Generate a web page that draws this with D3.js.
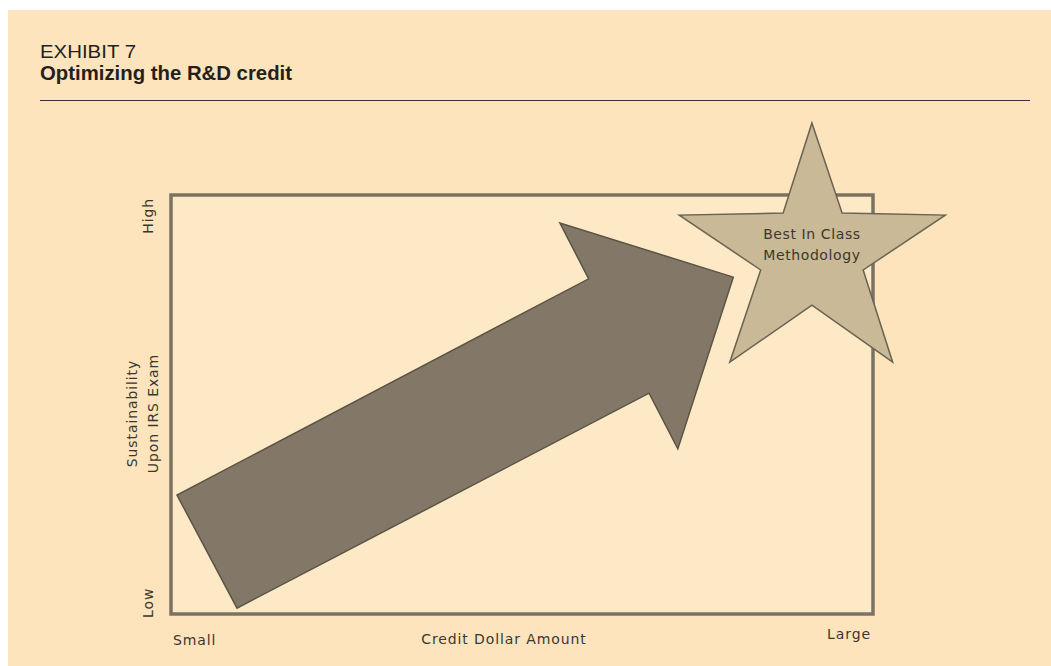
<!DOCTYPE html>
<html>
<head>
<meta charset="utf-8">
<script src="https://cdnjs.cloudflare.com/ajax/libs/d3/7.8.5/d3.min.js"></script>
<style>
  body { margin: 0; background: #fff; }
  svg { display: block; }
</style>
</head>
<body>
<div id="content"></div>
<script>
// conceptual chart: x = credit dollar amount, y = sustainability (0..100)
const xTicks = ["Small", "Large"];
const yTicks = ["Low", "High"];
const xTitle = "Credit Dollar Amount";
const yTitle = ["Sustainability", "Upon IRS Exam"];

// arrow outline (data units)
const arrowX = [9.4, 0.85, 59.5, 55.4, 80.1, 72.2, 68.1];
const arrowY = [1.4, 28.4, 80.0, 93.3, 80.4, 39.4, 52.7];

// star outline (data units)
const starX = [91.3, 95.6, 110.3, 98.6, 102.8, 91.3, 79.6, 84.0, 72.4, 87.2];
const starY = [117.2, 95.7, 95.2, 82.1, 60.1, 73.7, 60.1, 82.1, 95.2, 95.7];
const starLabel = ["Best In Class", "Methodology"];
const starLabelPos = [91.3, 89.5];

const W = 1051, H = 666;
const box = { left: 171, right: 873, top: 195, bottom: 614 };

const svg = d3.select("#content").append("svg")
  .attr("width", W).attr("height", H);

// panel background
svg.append("rect")
  .attr("x", 8).attr("y", 10)
  .attr("width", W - 8).attr("height", H - 10)
  .style("fill", "#fde4bd");

// header
const headFont = "'Liberation Sans Narrow', 'Arial Narrow', 'Liberation Sans', sans-serif";
svg.append("text")
  .attr("x", 40).attr("y", 58)
  .attr("textLength", 96).attr("lengthAdjust", "spacingAndGlyphs")
  .style("font-family", headFont)
  .style("font-size", "17.5px")
  .style("fill", "#231f1c")
  .text("EXHIBIT 7");
svg.append("text")
  .attr("x", 40).attr("y", 80)
  .attr("textLength", 252).attr("lengthAdjust", "spacingAndGlyphs")
  .style("font-family", headFont)
  .style("font-weight", "bold")
  .style("font-size", "20px")
  .style("fill", "#231f1c")
  .text("Optimizing the R&D credit");
svg.append("line")
  .attr("x1", 40).attr("x2", 1030)
  .attr("y1", 100.5).attr("y2", 100.5)
  .style("stroke", "#3a3530").style("stroke-width", 1.2);

const x = d3.scaleLinear().domain([0, 100]).range([box.left, box.right]);
const y = d3.scaleLinear().domain([0, 100]).range([box.bottom, box.top]);

// plot frame
svg.append("rect")
  .attr("x", x(0)).attr("y", y(100))
  .attr("width", x(100) - x(0)).attr("height", y(0) - y(100))
  .style("fill", "#fde9c6")
  .style("stroke", "#7a7363").style("stroke-width", 3.5);

const labelFont = "'DejaVu Sans', Verdana, sans-serif";
const labelColor = "#3b3730";

function label(px, py, str, anchor) {
  return svg.append("text")
    .attr("x", px).attr("y", py)
    .attr("text-anchor", anchor)
    .style("font-family", labelFont).style("font-size", "14px")
    .style("letter-spacing", "0.9px")
    .style("fill", labelColor).text(str);
}

// x labels
label(x(0) + 2, box.bottom + 31, xTicks[0], "start");
label(x(100) - 2, box.bottom + 25, xTicks[1], "end");
label(x(50) - 18, box.bottom + 30, xTitle, "middle");

// y labels (rotated)
function vText(px, py, str, anchor) {
  svg.append("text")
    .attr("transform", "translate(" + px + "," + py + ") rotate(-90)")
    .attr("text-anchor", anchor)
    .style("font-family", labelFont).style("font-size", "14px")
    .style("letter-spacing", "0.9px")
    .style("fill", labelColor).text(str);
}
vText(153, y(0) + 4, yTicks[0], "start");
vText(153, y(100) + 3, yTicks[1], "end");
vText(137, y(50) + 9, yTitle[0], "middle");
vText(158, y(50) + 9, yTitle[1], "middle");

const line = d3.line().x(d => x(d[0])).y(d => y(d[1]));

// arrow
svg.append("path")
  .attr("d", line(arrowX.map((v, i) => [v, arrowY[i]])) + "Z")
  .style("fill", "#837867")
  .style("stroke", "#5b5445").style("stroke-width", 1.5)
  .style("stroke-linejoin", "miter");

// star
svg.append("path")
  .attr("d", line(starX.map((v, i) => [v, starY[i]])) + "Z")
  .style("fill", "#c9b996")
  .style("stroke", "#6a6252").style("stroke-width", 1.5);

starLabel.forEach(function(t, i) {
  svg.append("text")
    .attr("x", x(starLabelPos[0]))
    .attr("y", y(starLabelPos[1]) + i * 21)
    .attr("text-anchor", "middle")
    .style("font-family", labelFont).style("font-size", "14px")
    .style("letter-spacing", "0.6px")
    .style("fill", "#3b3730").text(t);
});
</script>
</body>
</html>
